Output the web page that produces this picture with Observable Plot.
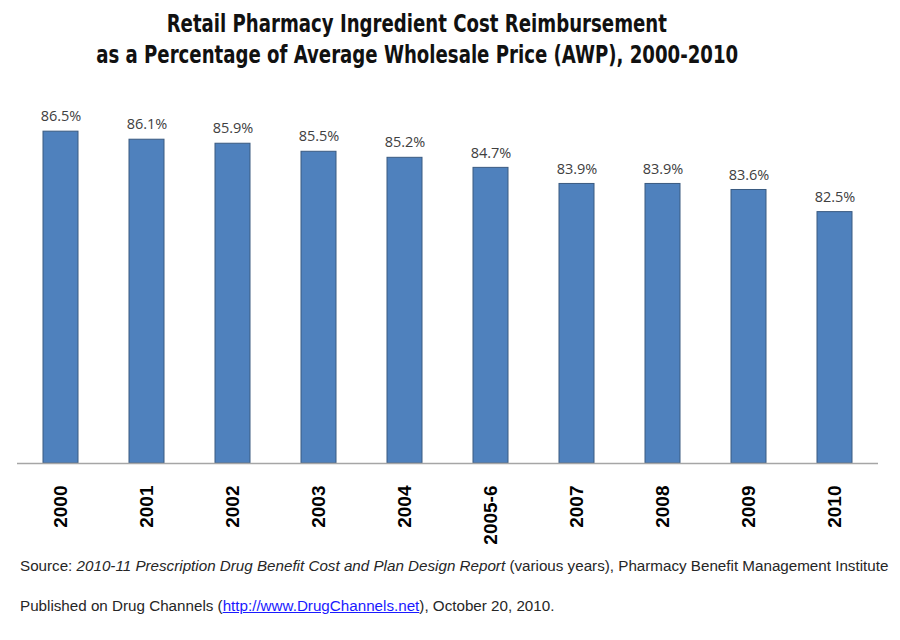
<!DOCTYPE html>
<html>
<head>
<meta charset="utf-8">
<script src="https://cdn.jsdelivr.net/npm/d3@7"></script>
<script src="https://cdn.jsdelivr.net/npm/@observablehq/plot@0.6"></script>
<style>
  html, body { margin: 0; padding: 0; background: #ffffff; }
  #wrap { position: relative; width: 900px; height: 640px; overflow: hidden; }
  #title { position: absolute; top: 9px; left: 0; width: 834px; text-align: center;
    font-family: "DejaVu Sans Condensed", "Liberation Sans", sans-serif;
    font-weight: bold; font-size: 24px; line-height: 31px; color: #111; }
  #title span { display: inline-block; transform: scaleX(0.84); transform-origin: center; white-space: nowrap; }
  #chart { position: absolute; top: 75px; left: 0; }
  .foot { position: absolute; left: 20px; font-family: "Liberation Sans", sans-serif;
    font-size: 15.2px; color: #262626; white-space: nowrap; }
  .foot a { color: #1a1aff; text-decoration: underline; }
</style>
</head>
<body>
<div id="wrap">
  <div id="title"><span>Retail Pharmacy Ingredient Cost Reimbursement</span><br><span>as a Percentage of Average Wholesale Price (AWP), 2000-2010</span></div>
  <div id="chart"></div>
  <div class="foot" style="top:557px">Source: <i>2010-11 Prescription Drug Benefit Cost and Plan Design Report</i> (various years), Pharmacy Benefit Management Institute</div>
  <div class="foot" style="top:597px">Published on Drug Channels (<a href="#">http://www.DrugChannels.net</a>), October 20, 2010.</div>
</div>
<script>
const years = ["2000", "2001", "2002", "2003", "2004", "2005-6", "2007", "2008", "2009", "2010"];
const values = [86.5, 86.1, 85.9, 85.5, 85.2, 84.7, 83.9, 83.9, 83.6, 82.5];
const labels = ["86.5%", "86.1%", "85.9%", "85.5%", "85.2%", "84.7%", "83.9%", "83.9%", "83.6%", "82.5%"];

const data = years.map((y, i) => ({year: y, value: values[i], label: labels[i]}));

const chart = Plot.plot({
  width: 900,
  height: 475,
  marginTop: 26,
  marginBottom: 87,
  marginLeft: 17,
  marginRight: 22,
  style: {fontFamily: "'Open Sans', sans-serif", background: "transparent"},
  x: {domain: years, paddingInner: 0.593, paddingOuter: 0.2965, label: null},
  y: {domain: [70, 88], axis: null},
  marks: [
    Plot.barY(data, {x: "year", y1: 70, y2: "value", fill: "#4F81BD", stroke: "#3A5A80", strokeWidth: 1}),
    Plot.ruleY([70], {stroke: "#A6A6A6", strokeWidth: 1.5}),
    Plot.text(data, {x: "year", y: "value", text: "label", dy: -15, fontSize: 14.5, fill: "#404040", lineAnchor: "middle"}),
    Plot.axisX({tickRotate: -90, tickSize: 0, tickPadding: 22, fontSize: 19, fontWeight: "bold", fill: "#000",
      fontFamily: "'Liberation Sans', Arial, sans-serif", label: null})
  ]
});
document.getElementById("chart").appendChild(chart);
</script>
</body>
</html>
